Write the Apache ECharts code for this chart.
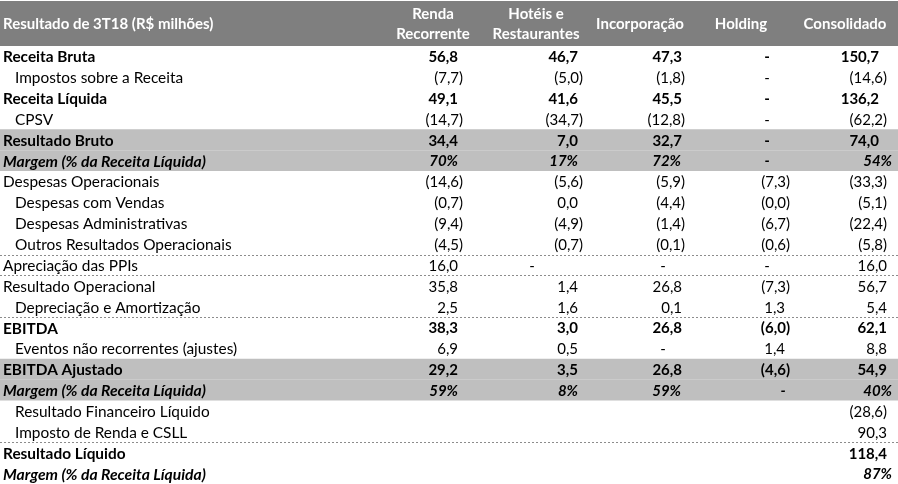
<!DOCTYPE html>
<html><head><meta charset="utf-8">
<script src="https://cdn.jsdelivr.net/npm/echarts@6/dist/echarts.min.js"></script>
<style>html,body{margin:0;padding:0;background:#fff}#c{width:898px;height:484px}</style>
</head><body><div id="c"></div>
<script>
// ---- DATA ----
const tableTitle = 'Resultado de 3T18 (R$ milhões)';
const columnHeaders = ['Renda\nRecorrente', 'Hotéis e\nRestaurantes', 'Incorporação', 'Holding', 'Consolidado'];
const rowLabels = [
  'Receita Bruta', 'Impostos sobre a Receita', 'Receita Líquida', 'CPSV',
  'Resultado Bruto', 'Margem (% da Receita Líquida)',
  'Despesas Operacionais', 'Despesas com Vendas', 'Despesas Administrativas', 'Outros Resultados Operacionais',
  'Apreciação das PPIs', 'Resultado Operacional', 'Depreciação e Amortização',
  'EBITDA', 'Eventos não recorrentes (ajustes)', 'EBITDA Ajustado', 'Margem (% da Receita Líquida)',
  'Resultado Financeiro Líquido', 'Imposto de Renda e CSLL', 'Resultado Líquido', 'Margem (% da Receita Líquida)'
];
const rendaRecorrente = ['56,8','(7,7)','49,1','(14,7)','34,4','70%','(14,6)','(0,7)','(9,4)','(4,5)','16,0','35,8','2,5','38,3','6,9','29,2','59%','','','',''];
const hoteisRestaurantes = ['46,7','(5,0)','41,6','(34,7)','7,0','17%','(5,6)','0,0','(4,9)','(0,7)','-','1,4','1,6','3,0','0,5','3,5','8%','','','',''];
const incorporacao = ['47,3','(1,8)','45,5','(12,8)','32,7','72%','(5,9)','(4,4)','(1,4)','(0,1)','-','26,8','0,1','26,8','-','26,8','59%','','','',''];
const holding = ['-','-','-','-','-','-','(7,3)','(0,0)','(6,7)','(0,6)','-','(7,3)','1,3','(6,0)','1,4','(4,6)','-','','','',''];
const consolidado = ['150,7','(14,6)','136,2','(62,2)','74,0','54%','(33,3)','(5,1)','(22,4)','(5,8)','16,0','56,7','5,4','62,1','8,8','54,9','40%','(28,6)','90,3','118,4','87%'];
const columns = [rendaRecorrente, hoteisRestaurantes, incorporacao, holding, consolidado];

// ---- STYLE / LAYOUT ----
const boldRows = [0,2,4,5,13,15,16,19,20];
const italicRows = [5,16,20];
const indentRows = [1,3,7,8,9,12,14,17,18];
const shadedRows = [4,5,15,16];
const dashedAbove = [10,11,13,19];
const FONT = 'Lato, "Open Sans", sans-serif';
const colHeaderX = [433, 536, 640, 741, 845];
const colPosRight = [458, 578, 682, 785, 887];
const colParenRight = [463, 583, 685, 790, 887];
const colPctRight = [458, 578, 681, 785, 892];
const colDashX = [440, 532, 663, 767, 870];

function fontOf(r, header, size) {
  const b = header || boldRows.includes(r);
  const i = italicRows.includes(r);
  return (i ? 'italic ' : '') + (b ? 'bold ' : '') + size + 'px ' + FONT;
}

const cellData = [];
rowLabels.forEach((lab, r) => cellData.push([0, r, lab, -1]));
columns.forEach((arr, c) => arr.forEach((v, r) => { if (v !== '') cellData.push([0, r, v, c]); }));

const bandData = [[-2.15, 0, '#7f7f7f']].concat(shadedRows.map(r => [r, r + 1, '#bfbfbf']));
const lineData = dashedAbove.map(r => [r]);

const chart = echarts.init(document.getElementById('c'), null, {renderer: 'canvas'});
chart.setOption({
  animation: false,
  grid: {left: 0, right: 0, top: 0, bottom: 0},
  xAxis: {type: 'value', min: 0, max: 898, show: false},
  yAxis: {type: 'value', min: -2.2, max: 21, inverse: true, show: false},
  series: [
    {
      type: 'custom', silent: true, data: bandData,
      renderItem(params, api) {
        const p0 = api.coord([0, api.value(0)]);
        const p1 = api.coord([898, api.value(1)]);
        return {type: 'rect', shape: {x: p0[0], y: p0[1], width: p1[0] - p0[0], height: p1[1] - p0[1]},
          style: {fill: bandData[params.dataIndex][2]}};
      }
    },
    {
      type: 'custom', silent: true, data: lineData,
      renderItem(params, api) {
        const p0 = api.coord([0, api.value(0)]);
        const p1 = api.coord([898, api.value(0)]);
        const y = Math.round(p0[1]) + 0.5;
        return {type: 'line', shape: {x1: p0[0], y1: y, x2: p1[0], y2: y},
          style: {stroke: '#8c8c8c', lineWidth: 1, lineDash: [2, 2]}};
      }
    },
    {
      type: 'custom', silent: true, data: [[0]],
      renderItem(params, api) {
        const kids = [];
        const yT = api.coord([0, -1.05])[1];
        kids.push({type: 'text', style: {text: tableTitle, x: api.coord([3, 0])[0], y: yT,
          textAlign: 'left', textVerticalAlign: 'middle', font: fontOf(-1, true, 15), fill: '#ffffff'}});
        columnHeaders.forEach((h, c) => {
          kids.push({type: 'text', style: {text: h, x: api.coord([colHeaderX[c], 0])[0], y: yT,
            textAlign: 'center', textVerticalAlign: 'middle', font: fontOf(-1, true, 15), fill: '#ffffff', lineHeight: 20}});
        });
        return {type: 'group', children: kids};
      }
    },
    {
      type: 'custom', silent: true, data: cellData,
      renderItem(params, api) {
        const d = cellData[params.dataIndex];
        const r = d[1], txt = d[2], c = d[3];
        let x, align = 'right', size = 15;
        if (c < 0) {
          x = indentRows.includes(r) ? 15 : 3; align = 'left';
          size = italicRows.includes(r) ? 15.7 : 15.4;
        }
        else if (txt === '-') {
          x = colDashX[c]; align = 'center';
          if (c === 3 && r === 16) x = 783;
        }
        else if (txt.startsWith('(')) x = colParenRight[c];
        else if (txt.endsWith('%')) x = colPctRight[c];
        else { x = colPosRight[c]; if (c === 4 && r < 6) x = 879; }
        const p = api.coord([x, r + 0.5]);
        return {type: 'text', style: {text: txt, x: p[0], y: p[1] + 1, textAlign: align,
          textVerticalAlign: 'middle', font: fontOf(r, false, size), fill: '#000000'}};
      }
    }
  ]
});
</script></body></html>
